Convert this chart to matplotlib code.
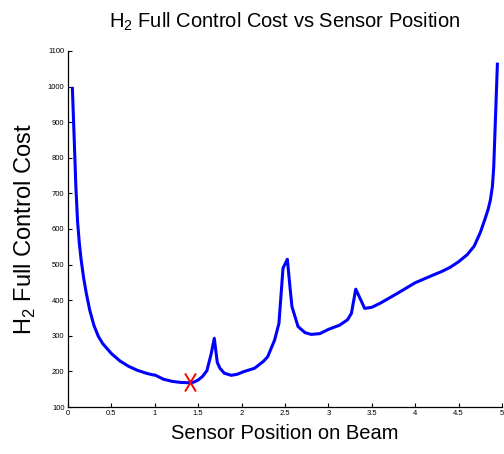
import matplotlib
matplotlib.use("Agg")
import matplotlib.pyplot as plt
from matplotlib.path import Path

plt.rcParams["font.family"] = ["Liberation Sans", "DejaVu Sans"]
plt.rcParams["mathtext.fontset"] = "custom"
plt.rcParams["mathtext.rm"] = "Liberation Sans"

# sensor position on beam vs H2 full control cost
position = [0.05, 0.07, 0.09, 0.11, 0.13, 0.15, 0.18, 0.21, 0.25, 0.3, 0.35, 0.4, 0.5,
            0.6, 0.7, 0.8, 0.9, 0.98, 1.0, 1.05, 1.1, 1.2, 1.3, 1.4, 1.45, 1.5, 1.55,
            1.6, 1.65, 1.685, 1.72, 1.75, 1.8, 1.88, 1.95, 2.02, 2.15, 2.25, 2.3, 2.38,
            2.43, 2.477, 2.527, 2.56, 2.58, 2.65, 2.73, 2.8, 2.9, 3.0, 3.13, 3.22,
            3.265, 3.315, 3.418, 3.5, 3.6, 3.8, 4.0, 4.2, 4.3, 4.4, 4.5, 4.6, 4.68,
            4.75, 4.8, 4.84, 4.866, 4.89, 4.905, 4.947]
cost = [995, 860, 720, 620, 560, 515, 462, 420, 372, 328, 298, 278, 250,
        229, 214, 203, 195, 190, 190, 184, 178, 172, 169, 168, 170, 176, 186,
        202, 250, 293, 225, 209, 195, 189, 192, 199, 209, 228, 241, 288,
        335, 490, 515, 430, 382, 326, 309, 304, 306, 318, 330, 345,
        363, 431, 377, 380, 392, 420, 449, 470, 480, 492, 508, 528, 552,
        590, 625, 655, 681, 720, 775, 1063]

best_position = [1.41]
best_cost = [170]

x_ticks = [0, 0.5, 1, 1.5, 2, 2.5, 3, 3.5, 4, 4.5, 5]
x_tick_labels = ["0", "0.5", "1", "1.5", "2", "2.5", "3", "3.5", "4", "4.5", "5"]
y_ticks = list(range(100, 1101, 100))

tall_x = Path([(-0.6, -1), (0.6, 1), (-0.6, 1), (0.6, -1)],
              [Path.MOVETO, Path.LINETO, Path.MOVETO, Path.LINETO])

fig = plt.figure(figsize=(5.04, 4.54), dpi=100)
ax = fig.add_axes([0.135, 0.1035, 0.861, 0.7842])

ax.plot(position, cost, color="#0000ff", linewidth=2.2, solid_joinstyle="round")
ax.plot(best_position, best_cost, linestyle="none", marker=tall_x, markersize=13,
        markeredgecolor="#ff0000", markeredgewidth=1.4)

ax.set_xlim(0, 5)
ax.set_ylim(100, 1100)
ax.set_xticks(x_ticks)
ax.set_xticklabels(x_tick_labels)
ax.set_yticks(y_ticks)
ax.tick_params(direction="in", length=3, width=0.8, labelsize=5.5, pad=2.5)
for side in ["top", "right"]:
    ax.spines[side].set_visible(False)
for side in ["left", "bottom"]:
    ax.spines[side].set_linewidth(0.9)

ax.set_title(r"H$_\mathregular{2}$ Full Control Cost vs Sensor Position",
             fontsize=14.5, pad=17)
ax.set_xlabel("Sensor Position on Beam", fontsize=14.5, labelpad=5)
ax.set_ylabel(r"H$_\mathregular{2}$ Full Control Cost", fontsize=17, labelpad=7)

fig.savefig("out.png", dpi=100)
